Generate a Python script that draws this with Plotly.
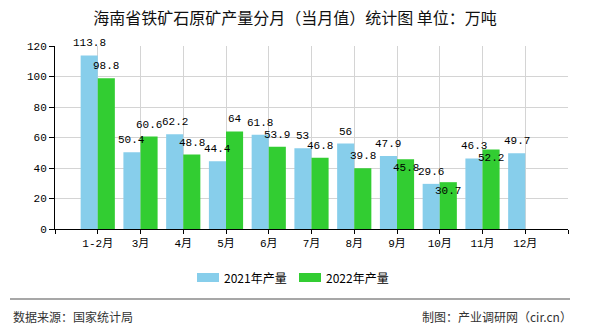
import plotly.graph_objects as go

categories = ["1-2月", "3月", "4月", "5月", "6月", "7月", "8月", "9月", "10月", "11月", "12月"]
series_names = ["2021年产量", "2022年产量"]
values_2021 = [113.8, 50.4, 62.2, 44.4, 61.8, 53, 56, 47.9, 29.6, 46.3, 49.7]
values_2022 = [98.8, 60.6, 48.8, 64, 53.9, 46.8, 39.8, 45.8, 30.7, 52.2, None]
# label placement: 1 = above bar top, -1 = just below bar top
place_2021 = [1] * 11
place_2022 = [1] * 7 + [-1, -1, -1, 1]
y_ticks = [0, 20, 40, 60, 80, 100, 120]
colors = ["#87CEEB", "#32CD32"]

W, H = 590, 330
L, R, T, B = 55, 568, 46, 229
BARGAP = 0.2


def px_x(x):
    return (x - L) / (R - L)


def px_y(y):
    return (B - y) / (B - T)


MONO = "Liberation Mono, Noto Sans CJK SC, monospace"
CJK = "Noto Sans CJK SC, sans-serif"

xs = list(range(len(categories)))


def fmt(v):
    return "%g" % v


fig = go.Figure()
series = [
    (series_names[0], values_2021, place_2021, colors[0]),
    (series_names[1], values_2022, place_2022, colors[1]),
]
n = len(series)
bw = (1 - BARGAP) / n
for k, (name, vals, place, col) in enumerate(series):
    fig.add_bar(
        x=xs, y=vals, name=name, marker=dict(color=col, line=dict(width=0)),
        hoverinfo="skip",
    )
    off = -(1 - BARGAP) / 2 + bw * (k + 0.5)
    for i, v in enumerate(vals):
        if v is None:
            continue
        fig.add_annotation(
            x=i + off, y=v, xref="x", yref="y", text=fmt(v), showarrow=False,
            xanchor="center", yanchor="middle",
            yshift=12 if place[i] > 0 else -9,
            font=dict(family=MONO, size=11, color="#000"),
        )

fig.update_layout(
    width=W, height=H,
    margin=dict(l=L, r=W - R, t=T, b=H - B, pad=0),
    paper_bgcolor="white", plot_bgcolor="white",
    barmode="group", bargap=BARGAP, bargroupgap=0,
    showlegend=False,
    title=dict(text="海南省铁矿石原矿产量分月（当月值）统计图 单位：万吨",
               x=0.5, xref="container", xanchor="center",
               y=1 - 18 / H, yref="container", yanchor="middle",
               font=dict(family=CJK, size=16, color="#111")),
    xaxis=dict(
        range=[-1, len(categories)],
        tickmode="array",
        tickvals=list(range(-1, len(categories) + 1)),
        ticktext=[""] + categories + [""],
        showgrid=True, gridcolor="#d4d4d4", gridwidth=1,
        showline=True, linecolor="#000", linewidth=1,
        ticks="outside", ticklen=4, tickcolor="#000",
        tickfont=dict(family=MONO, size=11, color="#000"),
        zeroline=False, fixedrange=True,
    ),
    yaxis=dict(
        range=[0, 120],
        tickmode="array", tickvals=y_ticks,
        showgrid=True, gridcolor="#d4d4d4", gridwidth=1,
        showline=True, linecolor="#000", linewidth=1,
        ticks="outside", ticklen=5, tickcolor="#000",
        tickfont=dict(family=MONO, size=11, color="#000"),
        zeroline=False, fixedrange=True,
    ),
)

# manual legend
leg_items = [(series_names[0], colors[0], 197), (series_names[1], colors[1], 299)]
for name, col, x0 in leg_items:
    fig.add_shape(type="rect", xref="paper", yref="paper",
                  x0=px_x(x0), x1=px_x(x0 + 22), y0=px_y(282), y1=px_y(273),
                  fillcolor=col, line=dict(width=0), layer="above")
    fig.add_annotation(xref="paper", yref="paper", x=px_x(x0 + 25), y=px_y(277.5),
                       text=name, showarrow=False, xanchor="left", yanchor="middle",
                       font=dict(family=CJK, size=12, color="#000"))

# footer
fig.add_shape(type="line", xref="paper", yref="paper",
              x0=px_x(10), x1=px_x(570), y0=px_y(299), y1=px_y(299),
              line=dict(color="#8a8a8a", width=1.5))
fig.add_annotation(xref="paper", yref="paper", x=px_x(11), y=px_y(316),
                   text="数据来源：国家统计局", showarrow=False,
                   xanchor="left", yanchor="middle",
                   font=dict(family=CJK, size=12, color="#333"))
fig.add_annotation(xref="paper", yref="paper", x=px_x(574), y=px_y(316),
                   text="制图：产业调研网（cir.cn）", showarrow=False,
                   xanchor="right", yanchor="middle",
                   font=dict(family=CJK, size=12, color="#333"))

fig.write_html("out.html", config={"displayModeBar": False})
